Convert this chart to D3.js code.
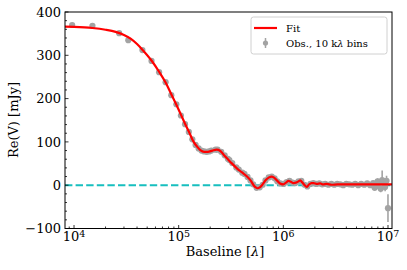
<!DOCTYPE html>
<html>
<head>
<meta charset="utf-8">
<script src="https://cdn.jsdelivr.net/npm/d3@7"></script>
<style>
  body { margin: 0; background: #fff; }
  text { font-family: "DejaVu Serif", serif; fill: #000; }
</style>
</head>
<body>
<div id="chart"></div>
<script>
// Observed visibilities, 10 klambda bins (baseline in klambda, Re(V) in mJy)
var obsBaseline = [9.6, 15, 27, 33, 45, 55, 65, 75, 85, 95, 105,
    115, 125, 135, 145, 155, 165, 175, 185, 195, 205, 225, 235, 255, 275, 295, 305, 325, 355, 375,
    405, 425, 455, 485, 515, 555, 595, 635, 675, 725, 775, 825, 875, 935,
    1005, 1075, 1145, 1225, 1305, 1395, 1485, 1595, 1695, 1815, 1935, 2065, 2205, 2355, 2515, 2695,
    2875, 3065, 3275, 3505, 3735, 3995, 4265, 4555, 4865, 5195, 5545, 5925, 6325, 6755, 7215,
    7455, 7705, 7955, 8235, 8515, 8795, 9085, 9385, 9685, 9995];
var obsValue = [370, 368, 351, 335, 312, 287, 261, 238, 208, 187, 161,
    141, 123, 106, 93, 85, 80, 78, 77, 78, 80, 82, 82, 77, 69, 61, 58, 51, 41, 36,
    29, 26, 19, 11, 2, -6, -5, 1, 11, 18, 20, 16, 9, 4,
    3, 7, 10, 6, 5, 9, 10, 1, -3, 3, 5, 3, 4, 2, 3, 1,
    3, 1, 3, 2, 0, 3, 2, 1, 3, 0, 3, 1, 4, 0, 5,
    -6, -2, 9, 6, -8, 12, 7, -4, 10, -53];
var obsError = [2, 2, 2, 2, 1, 1, 1, 1, 1, 1, 1,
    1, 1, 1, 1, 1, 1, 1, 1, 1, 1, 1, 1, 1, 1, 1, 1, 1, 1, 1,
    1, 1, 1, 1, 1, 1, 1, 1, 1, 1, 1, 1, 1, 1,
    1, 1, 1, 1, 1, 1, 1, 1, 1, 1, 1, 1, 1, 1, 1, 2,
    2, 2, 2, 2, 2, 2, 2, 2, 3, 3, 3, 3, 4, 4, 5,
    5, 6, 7, 8, 8, 22, 9, 10, 12, 32];

// Fitted model curve
var fitBaseline = [8.2, 10, 15, 20, 25, 30, 35, 40, 45, 55, 65, 75, 85, 95, 105, 115, 125, 139, 150, 161,
    175, 190, 210, 230, 250, 270, 290, 320, 360, 400, 450, 490, 520, 545, 568, 595, 625, 680, 730,
    777, 830, 900, 950, 1000, 1060, 1120, 1180, 1250, 1320, 1400, 1450, 1520, 1600, 1670, 1750,
    1850, 1950, 2100, 2250, 2400, 2600, 2900, 3300, 4000, 5000, 6000, 7000, 8000, 9000, 10000, 10900];
var fitValue = [366, 365.5, 363, 359, 354, 347, 338, 326, 313, 288, 262, 237, 210, 186, 163, 142, 124, 100, 89, 81,
    77, 77, 80, 82, 79, 70, 62, 51, 39, 30, 20, 10, 0, -5, -7, -5, 0, 12, 18,
    20, 16, 7, 3, 2, 6, 10, 8, 5, 6, 9, 11, 6, 0, -4, 1,
    5, 5, 3, 4, 2, 3, 1, 2, 2, 2, 2, 2, 2, 2, 2, 2];

var yTicks = [-100, 0, 100, 200, 300, 400];
var xTickExp = [4, 5, 6, 7];

var w = 407, h = 270;
var mLeft = 65, mRight = 392, mTop = 12, mBottom = 228.5;

var svg = d3.select("#chart").append("svg")
    .attr("width", w)
    .attr("height", h);

var x = d3.scaleLog().domain([8.2e3, 1.092e7]).range([mLeft, mRight]);
var y = d3.scaleLinear().domain([-100, 400]).range([mBottom, mTop]);

svg.append("defs").append("clipPath").attr("id", "clip")
    .append("rect")
    .attr("x", mLeft).attr("y", mTop)
    .attr("width", mRight - mLeft).attr("height", mBottom - mTop);

var g = svg.append("g").attr("clip-path", "url(#clip)");

// zero line
g.append("line")
    .attr("x1", mLeft).attr("x2", mRight)
    .attr("y1", y(0)).attr("y2", y(0))
    .style("stroke", "#17bfbf")
    .style("stroke-width", 2)
    .style("stroke-dasharray", "7.4,3.2");

var obs = obsBaseline.map(function (b, i) {
    return { b: b * 1000, v: obsValue[i], e: obsError[i] };
});

// error bars
g.selectAll("line.err")
    .data(obs)
    .enter()
    .append("line")
    .attr("class", "err")
    .attr("x1", function (d) { return x(d.b); })
    .attr("x2", function (d) { return x(d.b); })
    .attr("y1", function (d) { return y(d.v - d.e); })
    .attr("y2", function (d) { return y(d.v + d.e); })
    .style("stroke", "#a3a3a3")
    .style("stroke-width", 1.6);

g.selectAll("circle.obs")
    .data(obs)
    .enter()
    .append("circle")
    .attr("class", "obs")
    .attr("cx", function (d) { return x(d.b); })
    .attr("cy", function (d) { return y(d.v); })
    .attr("r", 3.1)
    .style("fill", "#a3a3a3");

var fit = fitBaseline.map(function (b, i) { return [b * 1000, fitValue[i]]; });
var line = d3.line()
    .x(function (d) { return x(d[0]); })
    .y(function (d) { return y(d[1]); })
    .curve(d3.curveMonotoneX);

g.append("path")
    .datum(fit)
    .attr("d", line)
    .style("fill", "none")
    .style("stroke", "#ff0000")
    .style("stroke-width", 2.2);

// frame
svg.append("rect")
    .attr("x", mLeft).attr("y", mTop)
    .attr("width", mRight - mLeft).attr("height", mBottom - mTop)
    .style("fill", "none")
    .style("stroke", "#000")
    .style("stroke-width", 1);

// y ticks (inward)
var yMinor = d3.range(-100, 401, 20);
svg.selectAll("line.ymin")
    .data(yMinor)
    .enter()
    .append("line")
    .attr("x1", mLeft).attr("x2", function (d) { return mLeft + (d % 100 === 0 ? 3.5 : 2); })
    .attr("y1", function (d) { return y(d); })
    .attr("y2", function (d) { return y(d); })
    .style("stroke", "#000")
    .style("stroke-width", 0.8);

svg.selectAll("text.ytick")
    .data(yTicks)
    .enter()
    .append("text")
    .attr("x", mLeft - 4)
    .attr("y", function (d) { return y(d); })
    .attr("dy", "0.36em")
    .attr("text-anchor", "end")
    .style("font-size", "13px")
    .text(function (d) { return d < 0 ? "\u2212" + (-d) : d; });

// x ticks (log, inward)
var xMinor = [];
[3, 4, 5, 6].forEach(function (e) {
    for (var k = 1; k <= 9; k++) xMinor.push(k * Math.pow(10, e));
});
xMinor.push(1e7);
xMinor = xMinor.filter(function (v) { return v >= 8.2e3 && v <= 1.092e7; });

svg.selectAll("line.xmin")
    .data(xMinor)
    .enter()
    .append("line")
    .attr("x1", function (d) { return x(d); })
    .attr("x2", function (d) { return x(d); })
    .attr("y1", mBottom)
    .attr("y2", function (d) {
        var major = Math.abs(Math.log10(d) - Math.round(Math.log10(d))) < 1e-9;
        return mBottom - (major ? 3.5 : 2);
    })
    .style("stroke", "#000")
    .style("stroke-width", 0.8);

var xt = svg.selectAll("text.xtick")
    .data(xTickExp)
    .enter()
    .append("text")
    .attr("x", function (d) { return x(Math.pow(10, d)); })
    .attr("y", 241)
    .attr("text-anchor", "middle")
    .style("font-size", "13px");
xt.append("tspan").text("10");
xt.append("tspan")
    .attr("dy", "-0.45em")
    .style("font-size", "9.5px")
    .text(function (d) { return d; });

// axis labels
svg.append("text")
    .attr("x", 225)
    .attr("y", 256)
    .attr("text-anchor", "middle")
    .style("font-size", "13px")
    .html('Baseline [<tspan style="font-style:italic">\u03bb</tspan>]');

svg.append("text")
    .attr("transform", "translate(18," + 120 + ") rotate(-90)")
    .attr("text-anchor", "middle")
    .style("font-size", "13px")
    .text("Re(V) [mJy]");

// legend
var lg = svg.append("g");
lg.append("rect")
    .attr("x", 251).attr("y", 17)
    .attr("width", 136).attr("height", 37)
    .attr("rx", 2.5)
    .style("fill", "#fff")
    .style("fill-opacity", 0.8)
    .style("stroke", "#d0d0d0")
    .style("stroke-width", 1);
lg.append("line")
    .attr("x1", 254).attr("x2", 277)
    .attr("y1", 28).attr("y2", 28)
    .style("stroke", "#ff0000")
    .style("stroke-width", 2.2);
lg.append("text")
    .attr("x", 286).attr("y", 31.5)
    .style("font-size", "10px")
    .text("Fit");
lg.append("line")
    .attr("x1", 265.5).attr("x2", 265.5)
    .attr("y1", 38).attr("y2", 48)
    .style("stroke", "#a3a3a3")
    .style("stroke-width", 1.5);
lg.append("circle")
    .attr("cx", 265.5).attr("cy", 43)
    .attr("r", 2.6)
    .style("fill", "#a3a3a3");
lg.append("text")
    .attr("x", 286).attr("y", 47)
    .style("font-size", "10px")
    .html('Obs., 10 k<tspan style="font-style:italic">\u03bb</tspan> bins');
</script>
</body>
</html>
